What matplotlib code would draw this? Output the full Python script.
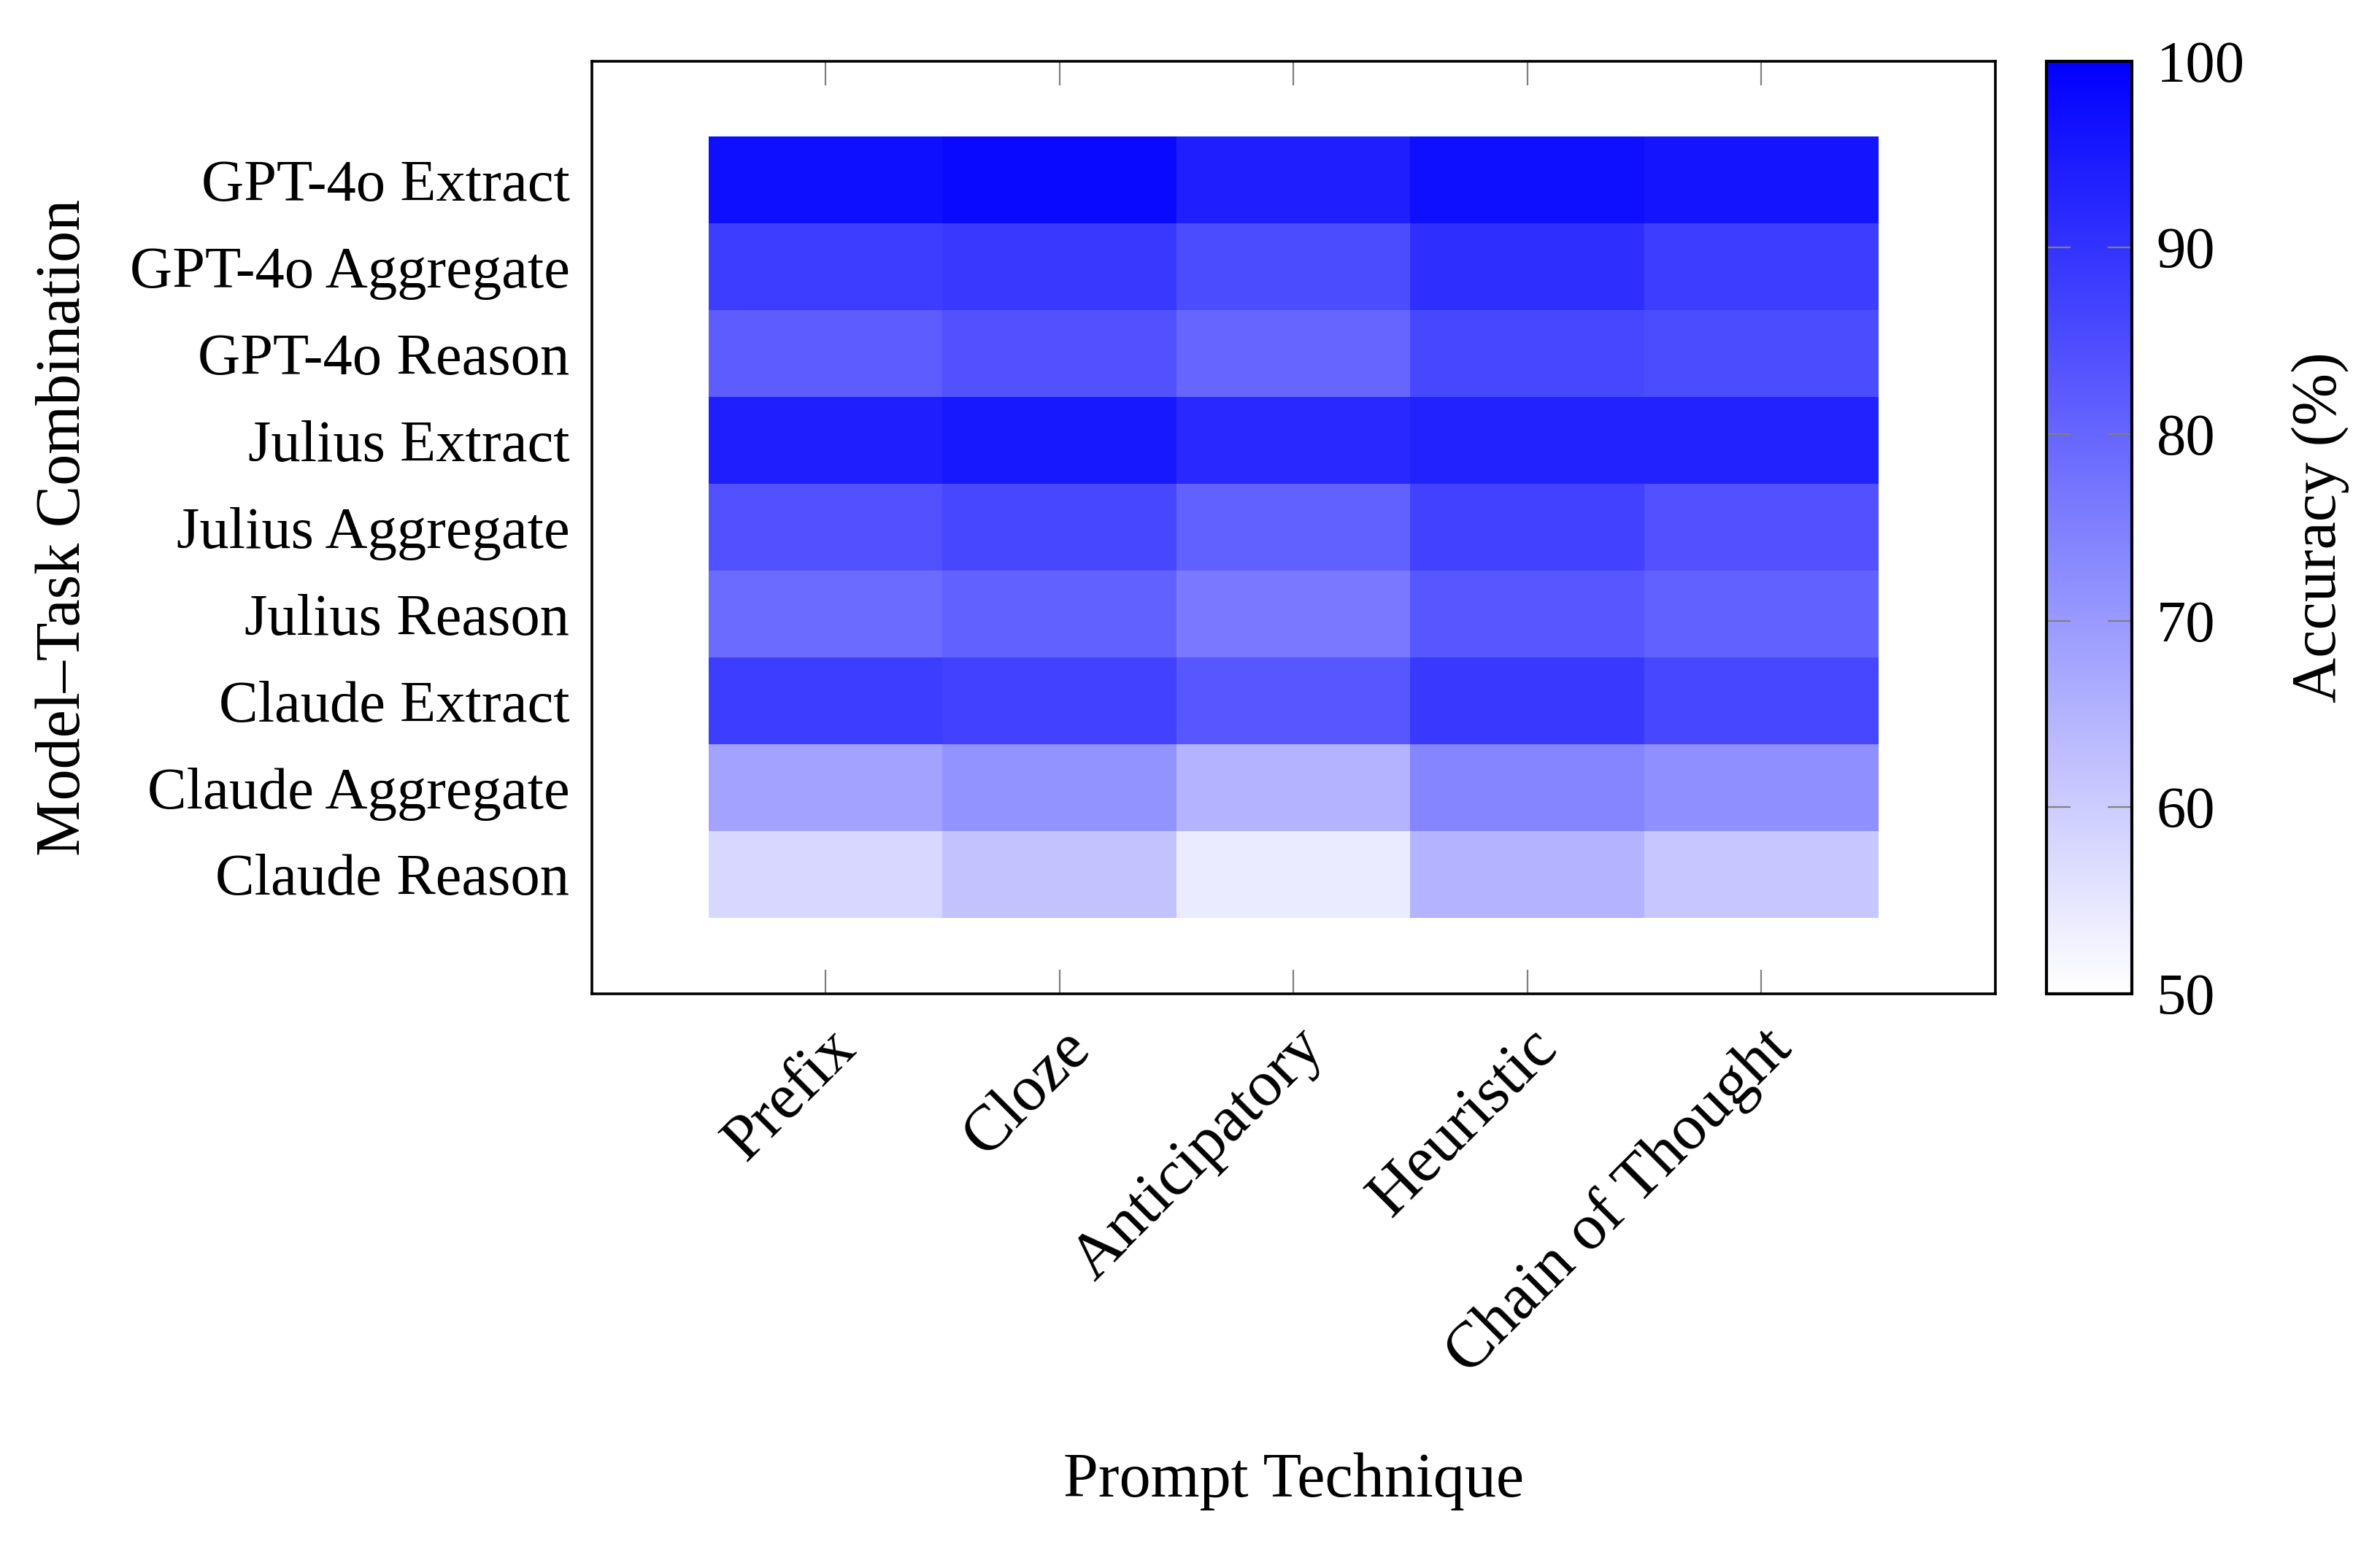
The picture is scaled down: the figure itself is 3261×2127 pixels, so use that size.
import numpy as np
import matplotlib
matplotlib.use('Agg')
import matplotlib.pyplot as plt
from matplotlib.colors import LinearSegmentedColormap

# ── Data ───────────────────────────────────────────────────────────────────────

techniques = ['Prefix', 'Cloze', 'Anticipatory', 'Heuristic', 'Chain of Thought']
combos = [
    'GPT-4o Extract', 'GPT-4o Aggregate', 'GPT-4o Reason',
    'Julius Extract', 'Julius Aggregate', 'Julius Reason',
    'Claude Extract', 'Claude Aggregate', 'Claude Reason',
]

gpt4o_extract    = [97, 98, 94, 97, 96]
gpt4o_aggregate  = [88, 89, 85, 91, 88]
gpt4o_reason     = [82, 84, 80, 86, 85]
julius_extract   = [94, 95, 92, 93, 93]
julius_aggregate = [84, 86, 81, 87, 84]
julius_reason    = [79, 81, 76, 83, 81]
claude_extract   = [88, 87, 83, 89, 86]
claude_aggregate = [68, 71, 65, 74, 72]
claude_reason    = [58, 62, 54, 65, 61]

cbar_ticks = [50, 60, 70, 80, 90, 100]

# ── Figure ─────────────────────────────────────────────────────────────────────

plt.rcParams['font.family'] = ['Liberation Serif', 'DejaVu Serif']
FS = 29        # tick labels
FS_X = 32      # rotated x tick labels
FS_LABEL = 31  # axis titles

acc = np.array([gpt4o_extract, gpt4o_aggregate, gpt4o_reason,
                julius_extract, julius_aggregate, julius_reason,
                claude_extract, claude_aggregate, claude_reason])

cmap = LinearSegmentedColormap.from_list('white_blue', ['#ffffff', '#0000ff'])

fig = plt.figure(figsize=(16.31, 10.635), dpi=200)
ax = fig.add_axes([0.2486, 0.3597, 0.5895, 0.6009])
cax = fig.add_axes([0.8596, 0.3597, 0.0359, 0.6009])

im = ax.imshow(acc, cmap=cmap, vmin=50, vmax=100, aspect='auto',
               interpolation='nearest', extent=(-0.5, 4.5, 8.5, -0.5))
ax.set_xlim(-1, 5)
ax.set_ylim(9.375, -1.375)

ax.set_xticks(range(len(techniques)))
ax.set_xticklabels(techniques, rotation=45, ha='right', va='top',
                   rotation_mode='anchor', fontsize=FS_X)
ax.set_yticks(range(len(combos)))
ax.set_yticklabels(combos, fontsize=FS)
ax.tick_params(axis='x', direction='in', length=12, width=0.8, color='#808080',
               top=True, bottom=True, pad=12)
ax.tick_params(axis='y', length=0, pad=11)
for s in ax.spines.values():
    s.set_linewidth(1.3)

ax.set_xlabel('Prompt Technique', fontsize=FS_LABEL, va='center')
ax.xaxis.set_label_coords(0.5, -0.523)
ax.set_ylabel('Model–Task Combination', fontsize=FS_LABEL, va='center')
ax.yaxis.set_label_coords(-0.376, 0.5)

cb = fig.colorbar(im, cax=cax, ticks=cbar_ticks)
cb.outline.set_linewidth(1.5)
cax.tick_params(direction='in', length=12, width=0.8, color='#808080',
                left=True, right=True, labelsize=FS, pad=12)
cb.set_label('Accuracy (%)', fontsize=FS_LABEL, va='center')
cax.yaxis.set_label_coords(3.2, 0.5)

fig.savefig('out.png', dpi=200)
